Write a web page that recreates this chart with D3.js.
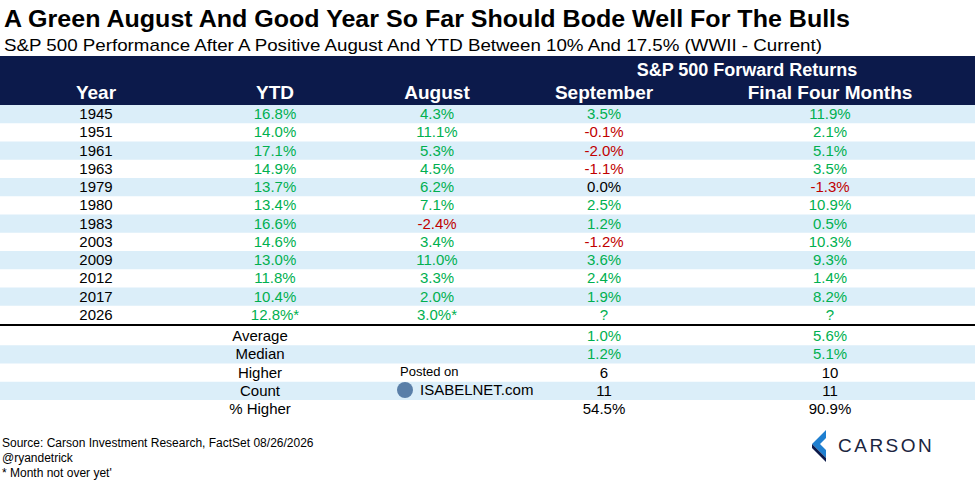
<!DOCTYPE html><html><head><meta charset="utf-8">
<script src="https://cdn.jsdelivr.net/npm/d3@7"></script>
<style>body{margin:0;background:#fff}text{font-family:"Liberation Sans Narrow","Arial Narrow","Liberation Sans",Arial,sans-serif}</style></head><body>
<svg id="c" width="975" height="480"></svg>
<script>
const years=["1945","1951","1961","1963","1979","1980","1983","2003","2009","2012","2017","2026"];
const ytd=["16.8%","14.0%","17.1%","14.9%","13.7%","13.4%","16.6%","14.6%","13.0%","11.8%","10.4%","12.8%*"];
const august=["4.3%","11.1%","5.3%","4.5%","6.2%","7.1%","-2.4%","3.4%","11.0%","3.3%","2.0%","3.0%*"];
const september=["3.5%","-0.1%","-2.0%","-1.1%","0.0%","2.5%","1.2%","-1.2%","3.6%","2.4%","1.9%","?"];
const finalFour=["11.9%","2.1%","5.1%","3.5%","-1.3%","10.9%","0.5%","10.3%","9.3%","1.4%","8.2%","?"];
const statLabels=["Average","Median","Higher","Count","% Higher"];
const statSep=["1.0%","1.2%","6","11","54.5%"];
const statFinal=["5.6%","5.1%","10","11","90.9%"];
const headers=["Year","YTD","August","September","Final Four Months"];

const svg=d3.select("#c");
const GREEN="#00b050",RED="#c00000",NAVY="#0c1a4b",BLUE="#dbeef9";
const cx=[96,275,437,604,830];
function col(v,i){ if(i===0||v==="?") return i===0?"#000":GREEN;
  if(v==="0.0%") return "#000"; return v.startsWith("-")?RED:GREEN;}
svg.append("text").attr("x",4).attr("y",27).attr("font-size",23).attr("font-weight","bold").attr("textLength",846).attr("lengthAdjust","spacingAndGlyphs").style("font-family","Liberation Sans,Arial").text("A Green August And Good Year So Far Should Bode Well For The Bulls");
svg.append("text").attr("x",4).attr("y",51).attr("font-size",17).attr("textLength",818).attr("lengthAdjust","spacingAndGlyphs").style("font-family","Liberation Sans,Arial").text("S&P 500 Performance After A Positive August And YTD Between 10% And 17.5% (WWII - Current)");
svg.append("rect").attr("x",0).attr("y",56).attr("width",975).attr("height",49).attr("fill",NAVY);
svg.append("text").attr("x",747).attr("y",76).attr("text-anchor","middle").attr("fill","#fff").attr("font-size",18).attr("font-weight","bold").text("S&P 500 Forward Returns");
headers.forEach((h,i)=>svg.append("text").attr("x",cx[i]).attr("y",99).attr("text-anchor","middle").attr("fill","#fff").attr("font-size",19).attr("font-weight","bold").text(h));
const y=d3.scaleBand().domain(d3.range(17)).range([105,105+17*18.25]);
const rows=years.map((yr,i)=>[yr,ytd[i],august[i],september[i],finalFour[i]]);
rows.forEach((r,i)=>{
  if(i%2===0) svg.append("rect").attr("x",0).attr("y",y(i)).attr("width",975).attr("height",y.bandwidth()).attr("fill",BLUE);
  r.forEach((v,j)=>svg.append("text").attr("x",cx[j]).attr("y",y(i)+y.bandwidth()/2+5).attr("text-anchor","middle").attr("font-size",15).attr("fill",col(v,j)).text(v));
});
const lineY=y(12)+1;
svg.append("line").attr("x1",0).attr("x2",975).attr("y1",lineY).attr("y2",lineY).attr("stroke","#000").attr("stroke-width",2);
statLabels.forEach((l,k)=>{
  const i=12+k, yy=y(i)+3;
  if(k%2===1) svg.append("rect").attr("x",0).attr("y",yy).attr("width",975).attr("height",y.bandwidth()).attr("fill",BLUE);
  const ty=yy+y.bandwidth()/2+5;
  svg.append("text").attr("x",260).attr("y",ty).attr("text-anchor","middle").attr("font-size",15).text(l);
  const c=k<2?GREEN:"#000";
  svg.append("text").attr("x",cx[3]).attr("y",ty).attr("text-anchor","middle").attr("font-size",15).attr("fill",c).text(statSep[k]);
  svg.append("text").attr("x",cx[4]).attr("y",ty).attr("text-anchor","middle").attr("font-size",15).attr("fill",c).text(statFinal[k]);
});
svg.append("text").attr("x",400).attr("y",376).attr("font-size",13).text("Posted on");
svg.append("circle").attr("cx",405).attr("cy",390).attr("r",8).attr("fill","#5a7fa8");
svg.append("text").attr("x",420).attr("y",395).attr("font-size",15).text("ISABELNET.com");
["Source: Carson Investment Research, FactSet 08/26/2026","@ryandetrick","* Month not over yet'"].forEach((t,i)=>
  svg.append("text").attr("x",2).attr("y",447+i*15).attr("font-size",12).text(t));
svg.append("path").attr("d","M826,430 L812,444 L826,458 L826,450 L820,444 L826,438Z").attr("fill","#1f7fd0");
svg.append("path").attr("d","M812,444 L826,458 L826,462 L812,448Z").attr("fill","#0c1a4b");
svg.append("text").attr("x",838).attr("y",452).attr("font-size",19).attr("letter-spacing",2.5).attr("fill","#1a2540").style("font-family","Liberation Sans,Arial").text("CARSON");
</script></body></html>
